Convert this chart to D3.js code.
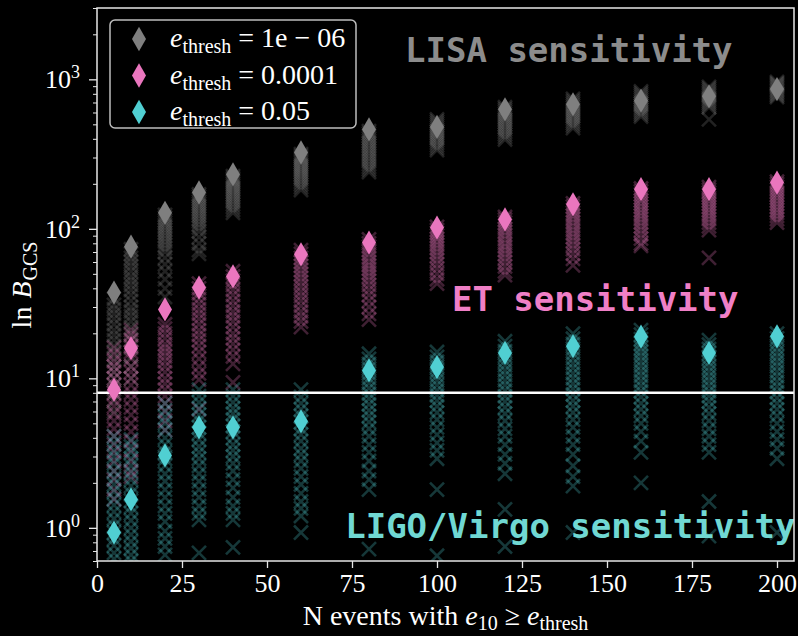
<!DOCTYPE html>
<html>
<head>
<meta charset="utf-8">
<script src="https://cdn.jsdelivr.net/npm/d3@7"></script>
<style>
  body { margin: 0; background: #000; }
  svg { display: block; }
</style>
</head>
<body>
<div id="chart"></div>
<script>
// number of events on the x axis
var nEvents = [5, 10, 20, 30, 40, 60, 80, 100, 120, 140, 160, 180, 200];

// legend labels (value of e_thresh)
var threshLabels = ["1e \u2212 06", "0.0001", "0.05"];

// big diamond markers, one per N for each threshold
var grayMarker = [37.5, 76, 128, 175, 231, 324, 462, 480, 630, 680, 720, 770, 860];
var pinkMarker = [8.4, 15.9, 28.9, 40.5, 48, 67.5, 81, 102, 115.6, 146, 184, 184, 204];
var cyanMarker = [0.93, 1.55, 3.05, 4.7, 4.7, 5.16, 11.3, 11.9, 14.8, 16.4, 19, 14.8, 19.1];

// individual realisations (x markers), one list per N
var graySamples = [
  [34, 31, 29, 27, 25, 23, 21, 19.5, 18, 16.5, 15, 13.5, 12, 11, 10, 9, 8, 7, 6],
  [73, 68, 64, 60, 56, 52, 48, 45, 42, 39, 36, 33, 30, 28, 26, 24, 22, 20, 18, 16, 14, 12, 10],
  [124, 119, 114, 110, 106, 102, 98, 94, 90, 86, 82, 78, 74, 70, 64, 58, 52, 46, 40, 35],
  [170, 164, 158, 152, 147, 142, 137, 132, 127, 122, 117, 112, 107, 102, 96, 88, 80, 72, 68],
  [225, 218, 212, 206, 200, 194, 188, 182, 176, 170, 164, 158, 152, 146, 140, 134, 128],
  [316, 306, 297, 288, 279, 270, 262, 254, 246, 238, 230, 222, 214, 206, 198, 190, 182],
  [450, 434, 418, 403, 388, 374, 360, 346, 333, 320, 307, 295, 283, 271, 260, 250, 240],
  [540, 522, 505, 490, 475, 460, 446, 432, 418, 404, 390, 376, 362, 348, 336],
  [650, 630, 610, 590, 570, 552, 534, 516, 498, 480, 462, 445, 428, 412, 396],
  [740, 715, 690, 668, 646, 625, 604, 584, 564, 545, 526, 508, 490, 472],
  [830, 805, 780, 756, 732, 710, 688, 666, 645, 624, 604, 584, 564],
  [890, 866, 842, 818, 796, 774, 752, 730, 710, 690, 670, 650, 540],
  [960, 940, 920, 900, 880, 860, 840, 820, 800, 780, 760]
];
var pinkSamples = [
  [16, 14.5, 13, 12, 11, 10, 9, 8, 7.2, 6.5, 5.8, 5.2, 4.6, 4.1, 3.6, 3.2, 2.8, 2.4, 2.1, 1.8, 1.55],
  [21, 19.5, 18, 16.5, 15, 13.5, 12, 11, 10, 9, 8, 7.2, 6.4, 5.7, 5, 4.4, 3.8, 3.3, 2.8, 2.4, 2.2],
  [23, 21.5, 20, 18.5, 17, 16, 15, 14, 13, 12, 11, 10, 9.2, 8.4, 7.6, 6.8, 6, 5.2, 4.5],
  [43, 40, 37, 34, 31.5, 29, 27, 25, 23, 21, 19.5, 18, 16.5, 15, 13.5, 12, 10.8, 9.8, 6.2],
  [52, 48, 45, 42, 39, 36, 33, 30.5, 28, 26, 24, 22, 20, 18.5, 17, 15.5, 14, 12.5, 9.4],
  [72, 68, 64, 60, 56.5, 53, 50, 47, 44, 41, 38, 35.5, 33, 30.5, 28, 26, 24, 22],
  [85, 80, 76, 72, 68, 64, 60, 57, 54, 51, 48, 45, 42, 39, 36, 33, 30, 27, 24.7],
  [103, 98, 94, 90, 86, 82, 78, 74, 70, 66, 62, 58, 54, 50, 46, 43],
  [120, 115, 110, 105, 100, 95, 90, 85, 80, 76, 72, 68, 64, 60, 56, 52, 49],
  [148, 141, 134, 128, 122, 116, 110, 104, 98, 93, 88, 83, 78, 73, 68, 63, 57],
  [186, 178, 170, 162, 155, 148, 141, 134, 128, 122, 116, 110, 104, 98, 92, 86, 80, 77],
  [190, 182, 175, 168, 161, 154, 147, 140, 134, 128, 122, 116, 110, 104, 98, 64],
  [207, 199, 191, 183, 175, 168, 161, 154, 147, 140, 134, 128, 122, 116, 110]
];
var cyanSamples = [
  [4.1, 3.7, 3.3, 3.0, 2.7, 2.4, 2.15, 1.95, 1.75, 1.57, 1.42, 1.28, 1.15, 1.03, 0.93, 0.84, 0.76, 0.68, 0.62],
  [3.9, 3.5, 3.2, 2.9, 2.6, 2.35, 2.1, 1.9, 1.7, 1.52, 1.38, 1.25, 1.12, 1.0, 0.9, 0.81, 0.73, 0.66, 0.6],
  [6.8, 6.1, 5.5, 5.0, 4.5, 4.0, 3.6, 3.2, 2.9, 2.6, 2.3, 2.05, 1.8, 1.6, 1.4, 1.25, 1.1, 0.95, 0.85, 0.75, 0.66],
  [8.4, 7.6, 6.9, 6.3, 5.7, 5.2, 4.7, 4.3, 3.9, 3.5, 3.2, 2.9, 2.6, 2.3, 2.05, 1.8, 1.6, 1.4, 1.25, 1.13, 0.68],
  [8.4, 7.6, 6.9, 6.3, 5.8, 5.3, 4.8, 4.4, 4.0, 3.6, 3.3, 3.0, 2.7, 2.4, 2.1, 1.85, 1.6, 1.4, 1.25, 1.13, 0.74],
  [8.4, 7.5, 6.8, 6.2, 5.6, 5.1, 4.6, 4.2, 3.8, 3.4, 3.1, 2.8, 2.5, 2.2, 1.95, 1.7, 1.5, 1.35, 1.2, 0.93],
  [14.6, 13.5, 12.5, 11.6, 10.8, 10, 9.3, 8.6, 7.9, 7.3, 6.7, 6.1, 5.6, 5.1, 4.6, 4.1, 3.6, 3.2, 2.8, 2.4, 2.1, 1.8, 0.72],
  [15, 13.9, 12.9, 12, 11.2, 10.4, 9.7, 9, 8.3, 7.7, 7.1, 6.5, 5.9, 5.3, 4.7, 4.2, 3.7, 3.3, 2.9, 1.8, 0.65],
  [17.7, 16.4, 15.2, 14.1, 13.1, 12.2, 11.3, 10.5, 9.7, 9, 8.3, 7.6, 7, 6.4, 5.8, 5.2, 4.6, 4.1, 3.6, 3.1, 2.7, 2.3, 1.33, 0.75],
  [19.9, 18.4, 17, 15.8, 14.7, 13.6, 12.6, 11.7, 10.8, 10, 9.2, 8.5, 7.8, 7.1, 6.5, 5.9, 5.3, 4.7, 4.1, 3.6, 3.1, 2.6, 2.2, 1.9, 0.93],
  [21, 19.6, 18.3, 17.1, 16, 15, 14, 13, 12.1, 11.2, 10.4, 9.6, 8.9, 8.2, 7.5, 6.8, 6.2, 5.6, 5, 4.4, 3.8, 3.2, 2.0],
  [18, 16.8, 15.7, 14.7, 13.7, 12.8, 11.9, 11.1, 10.3, 9.6, 8.9, 8.2, 7.6, 7, 6.4, 5.8, 5.2, 4.6, 4.1, 3.6, 3.2, 1.5, 0.88],
  [19.9, 18.5, 17.2, 16, 14.9, 13.9, 12.9, 12, 11.1, 10.3, 9.5, 8.8, 8.1, 7.4, 6.8, 6.2, 5.6, 5, 4.4, 3.9, 3.4, 2.9, 0.93]
];

// detector threshold line and sensitivity labels
var thresholdLine = 8;
var annotations = [
  {text: "LISA sensitivity", x: 90.6, y: 1300, color: "#8c8c8c"},
  {text: "ET sensitivity", x: 104.4, y: 28.4, color: "#f07fc6"},
  {text: "LIGO/Virgo sensitivity", x: 73, y: 0.86, color: "#70d8d3"}
];

var xTicks = [0, 25, 50, 75, 100, 125, 150, 175, 200];
var yMajor = [1, 10, 100, 1000];

var W = 798, H = 636,
    axL = 97, axR = 794, axT = 8, axB = 561;   // axes box

var colors = ["#7f7f7f", "#ea76be", "#50cfd2"];
var series = [
  {marker: grayMarker, samples: graySamples},
  {marker: pinkMarker, samples: pinkSamples},
  {marker: cyanMarker, samples: cyanSamples}
];

var svg = d3.select("#chart").append("svg")
    .attr("width", W)
    .attr("height", H)
    .style("background", "#000");

var x = d3.scaleLinear().domain([0, 205]).range([axL, axR]);
var y = d3.scaleLog().domain([0.6, 3000]).range([axB, axT]);

svg.append("clipPath").attr("id", "clip")
  .append("rect")
    .attr("x", axL).attr("y", axT)
    .attr("width", axR - axL).attr("height", axB - axT);

var plot = svg.append("g").attr("clip-path", "url(#clip)");

// flatten the samples into points
var pts = [];
series.forEach(function(s, k) {
    s.samples.forEach(function(list, i) {
        list.forEach(function(v) { pts.push({n: nEvents[i], v: v, k: k}); });
    });
});

var xSym = d3.symbol().type(d3.symbolX).size(130);
var dSym = d3.symbol().type(d3.symbolDiamond).size(170);

plot.selectAll(".xs")
    .data(pts)
    .enter()
    .append("path")
    .attr("d", xSym)
    .attr("fill", "none")
    .attr("stroke", (d) => colors[d.k])
    .attr("stroke-width", 2.6)
    .attr("stroke-opacity", 0.27)
    .attr("transform", (d) => "translate(" + x(d.n) + "," + y(d.v) + ")");

// threshold line
plot.append("line")
    .attr("x1", axL).attr("x2", axR)
    .attr("y1", y(thresholdLine)).attr("y2", y(thresholdLine))
    .attr("stroke", "#fff")
    .attr("stroke-width", 2.5);

// diamonds on top
series.forEach(function(s, k) {
    plot.selectAll(".dia" + k)
        .data(s.marker)
        .enter()
        .append("path")
        .attr("d", dSym)
        .attr("fill", colors[k])
        .attr("transform", (d, i) => "translate(" + x(nEvents[i]) + "," + y(d) + ")");
});

// sensitivity labels
plot.selectAll(".ann")
    .data(annotations)
    .enter()
    .append("text")
    .attr("x", (d) => x(d.x))
    .attr("y", (d) => y(d.y))
    .attr("font-family", "DejaVu Sans Mono")
    .attr("font-weight", "bold")
    .attr("font-size", 34)
    .attr("fill", (d) => d.color)
    .text((d) => d.text);

// frame
svg.append("rect")
    .attr("x", axL).attr("y", axT)
    .attr("width", axR - axL).attr("height", axB - axT)
    .attr("fill", "none")
    .attr("stroke", "#e6e6e6")
    .attr("stroke-width", 1.5);

var serif = "Liberation Serif";

// x axis
var gX = svg.append("g")
    .attr("transform", "translate(0," + axB + ")")
    .call(d3.axisBottom(x).tickValues(xTicks).tickSize(7).tickPadding(6));
gX.select(".domain").remove();
gX.selectAll("line").attr("stroke", "#e6e6e6").attr("stroke-width", 1.3);
gX.selectAll("text").attr("fill", "#fff").attr("font-family", serif).attr("font-size", 26);

// y axis, majors with 10^k labels, minors unlabeled
var yMinor = [];
[-1, 0, 1, 2, 3].forEach(function(e) {
    for (var m = 2; m <= 9; m++) {
        var v = m * Math.pow(10, e);
        if (v >= 0.6 && v <= 3000) yMinor.push(v);
    }
});
var gYm = svg.append("g")
    .attr("transform", "translate(" + axL + ",0)")
    .call(d3.axisLeft(y).tickValues(yMinor).tickSize(4).tickFormat(""));
gYm.select(".domain").remove();
gYm.selectAll("line").attr("stroke", "#e6e6e6").attr("stroke-width", 1);

var gY = svg.append("g")
    .attr("transform", "translate(" + axL + ",0)")
    .call(d3.axisLeft(y).tickValues(yMajor).tickSize(8).tickPadding(9));
gY.select(".domain").remove();
gY.selectAll("line").attr("stroke", "#e6e6e6").attr("stroke-width", 1.3);
gY.selectAll("text")
    .attr("fill", "#fff")
    .attr("font-family", serif)
    .attr("font-size", 26)
    .each(function(d) {
        var t = d3.select(this).text(null);
        t.append("tspan").text("10");
        t.append("tspan").attr("dy", -10).attr("font-size", 18).text(Math.round(Math.log10(d)));
    });

// axis labels
var xl = svg.append("text")
    .attr("x", (axL + axR) / 2)
    .attr("y", 625)
    .attr("text-anchor", "middle")
    .attr("fill", "#fff")
    .attr("font-family", serif)
    .attr("font-size", 28);
xl.append("tspan").text("N events with ");
xl.append("tspan").attr("font-style", "italic").text("e");
xl.append("tspan").attr("dy", 5).attr("font-size", 20).text("10");
xl.append("tspan").attr("dy", -5).text(" \u2265 ");
xl.append("tspan").attr("font-style", "italic").text("e");
xl.append("tspan").attr("dy", 5).attr("font-size", 20).text("thresh");

var yl = svg.append("text")
    .attr("transform", "translate(31," + 285 + ") rotate(-90)")
    .attr("text-anchor", "middle")
    .attr("fill", "#fff")
    .attr("font-family", serif)
    .attr("font-size", 28);
yl.append("tspan").text("ln");
yl.append("tspan").attr("dx", 8).attr("font-style", "italic").text("B");
yl.append("tspan").attr("dx", 1).attr("dy", 6).attr("font-size", 20).text("GCS");

// legend
var lg = svg.append("g").attr("transform", "translate(110,20)");
lg.append("rect")
    .attr("width", 246).attr("height", 108)
    .attr("rx", 5)
    .attr("fill", "#000")
    .attr("fill-opacity", 0.8)
    .attr("stroke", "#bdbdbd")
    .attr("stroke-width", 1.5);
threshLabels.forEach(function(lab, k) {
    var cy = 19 + k * 36.5;
    lg.append("path")
        .attr("d", dSym)
        .attr("fill", colors[k])
        .attr("transform", "translate(29," + cy + ")");
    var t = lg.append("text")
        .attr("x", 60).attr("y", cy + 8)
        .attr("fill", "#fff")
        .attr("font-family", serif)
        .attr("font-size", 28);
    t.append("tspan").attr("font-style", "italic").text("e");
    t.append("tspan").attr("dy", 6).attr("font-size", 20).text("thresh");
    t.append("tspan").attr("dy", -6).text(" = " + lab);
});
</script>
</body>
</html>
